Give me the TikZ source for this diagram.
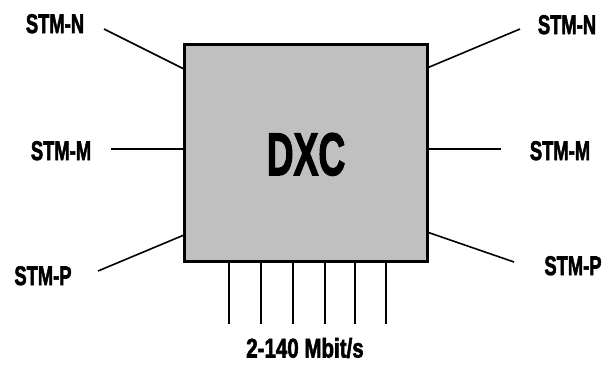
\documentclass[tikz,border=0pt]{standalone}
\usepackage{fontspec}
\usepackage{graphicx}
\setmainfont{Liberation Sans}[BoldFeatures={FakeBold=2.5}]
\newcommand{\lbltext}[2][0.62]{\scalebox{#1}[1]{\bfseries #2}}
\begin{document}
\begin{tikzpicture}[x=1pt,y=-1pt,
  lbl/.style={inner sep=0pt,anchor=base,font=\fontsize{27}{27}\selectfont},
  wire/.style={line width=1.6pt,black},
  box/.style={draw=black,line width=3pt,fill=boxgray,minimum width=243pt,minimum height=217pt,inner sep=0pt}]
\definecolor{boxgray}{HTML}{C0C0C0}
\useasboundingbox (0,0) rectangle (602,365);
\node[box] (dxc) at (305.5,152.5) {};
\node[inner sep=0pt,anchor=base,font=\fontsize{60}{60}\selectfont] (dxct) at (306,175) {\lbltext[0.62]{DXC}};
% labels
\node[lbl] (ln) at (55,33) {\lbltext[0.68]{STM-N}};
\node[lbl] (rn) at (567,34) {\lbltext[0.68]{STM-N}};
\node[lbl] (lm) at (61,160) {\lbltext[0.68]{STM-M}};
\node[lbl] (rm) at (560,160) {\lbltext[0.68]{STM-M}};
\node[lbl] (lp) at (43,285) {\lbltext[0.68]{STM-P}};
\node[lbl] (rp) at (573,275) {\lbltext[0.68]{STM-P}};
\node[lbl] (bot) at (305,357.5) {\lbltext[0.76]{2-140 Mbit/s}};
% connector ends
\coordinate (a1) at (104,29);  \coordinate (b1) at (184,69);
\coordinate (a2) at (520,29);  \coordinate (b2) at (427,68);
\coordinate (a3) at (111,149); \coordinate (b3) at (184,149);
\coordinate (a4) at (501,149); \coordinate (b4) at (427,149);
\coordinate (a5) at (98,271);  \coordinate (b5) at (184,235);
\coordinate (a6) at (514,262); \coordinate (b6) at (427,232);
\draw[wire] (a1) -- (b1);
\draw[wire] (a2) -- (b2);
\draw[wire] (a3) -- (b3);
\draw[wire] (a4) -- (b4);
\draw[wire] (a5) -- (b5);
\draw[wire] (a6) -- (b6);
\foreach \x [count=\i] in {229,261,293,325,355,386}{
  \coordinate (t\i) at (\x,262);
  \coordinate (e\i) at (\x,324);
  \draw[wire] (t\i) -- (e\i);
}
\end{tikzpicture}
\end{document}
